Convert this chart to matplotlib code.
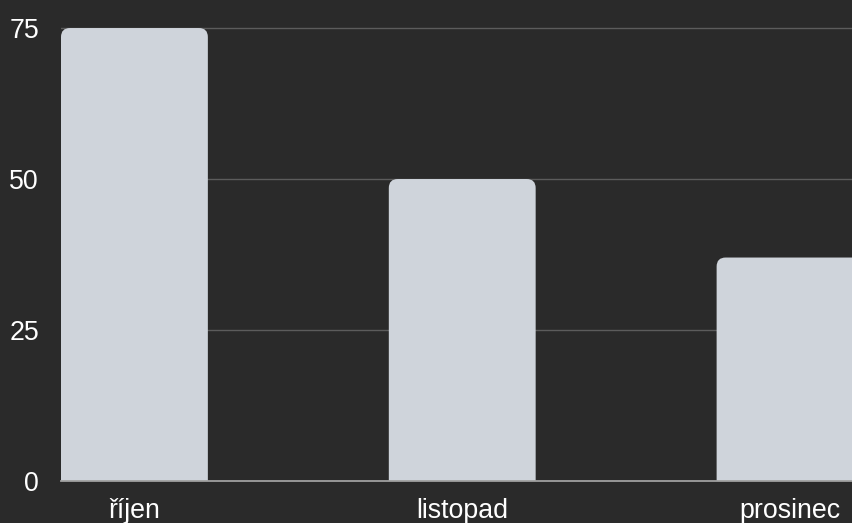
import matplotlib
matplotlib.use("Agg")
import matplotlib.pyplot as plt
from matplotlib.patches import FancyBboxPatch

plt.rcParams['font.family'] = ['Liberation Sans', 'DejaVu Sans']

categories = ["říjen", "listopad", "prosinec"]
values = [75, 50, 37]
yticks = [0, 25, 50, 75]

BG = "#2a2a2a"
BAR = "#cfd4db"
GRID = "#5c5c5c"
BASE = "#a0a0a0"
TXT = "#ffffff"

W, H, DPI = 852, 523, 100
fig = plt.figure(figsize=(W / DPI, H / DPI), dpi=DPI, facecolor=BG)
ax_left, ax_bottom = 61 / W, (H - 481) / H
ax = fig.add_axes([ax_left, ax_bottom, 1 - ax_left, 481 / H], facecolor=BG)

bw = 0.448
xs = list(range(len(categories)))
ax.set_xlim(-bw / 2, 2.189)
ax.set_ylim(0, 79.64)

# pixel -> data scale for rounding
px_x = (W * (1 - ax_left)) / (2.189 + bw / 2)
px_y = 481 / 79.64
r_px = 9
rx = r_px / px_x
ry = r_px / px_y

for x, v in zip(xs, values):
    p = FancyBboxPatch((x - bw / 2, -5), bw, v + 5,
                       boxstyle=f"round,pad=0,rounding_size={rx}",
                       mutation_aspect=ry / rx,
                       facecolor=BAR, edgecolor="none", zorder=2)
    ax.add_patch(p)

ax.set_yticks(yticks)
ax.set_yticklabels([str(t) for t in yticks])
ax.set_xticks(xs)
ax.set_xticklabels(categories)
for t in yticks[1:]:
    ax.axhline(t, color=GRID, lw=1.0, zorder=1)
ax.axhline(0, color=BASE, lw=1.3, zorder=3, clip_on=False)

for s in ax.spines.values():
    s.set_visible(False)
ax.tick_params(axis='y', length=0, pad=15.8, labelsize=19.3, labelcolor=TXT)
ax.tick_params(axis='x', length=0, pad=12.5, labelsize=19.3, labelcolor=TXT)

fig.savefig("out.png", dpi=DPI, facecolor=BG)
